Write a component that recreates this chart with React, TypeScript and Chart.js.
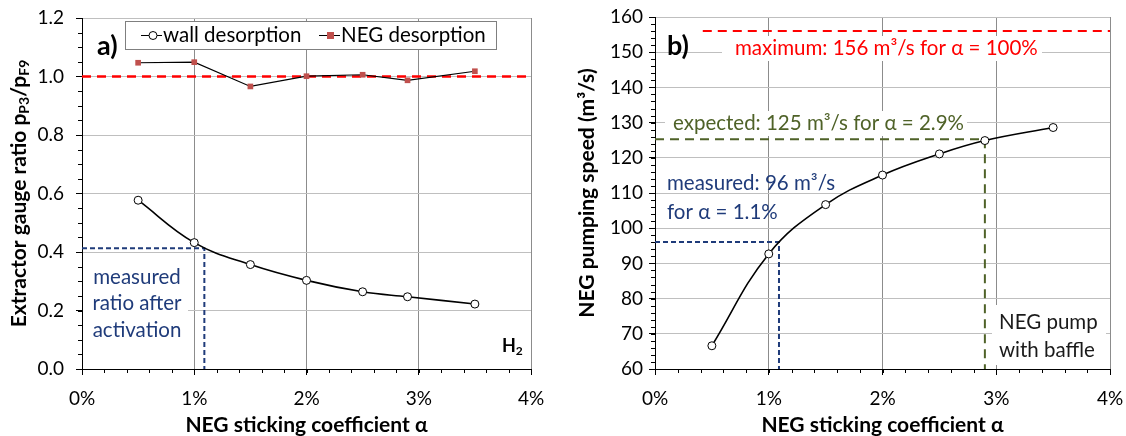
import React, { useEffect, useRef } from "react";
import { Chart, registerables } from "chart.js";

Chart.register(...registerables);

// ---------- data ----------
const alphaPct = [0.5, 1, 1.5, 2, 2.5, 2.9, 3.5];
const wallDesorption = [0.577, 0.432, 0.357, 0.303, 0.264, 0.247, 0.222];
const negDesorption = [1.047, 1.049, 0.966, 1.001, 1.006, 0.987, 1.018];
const pumpingSpeed = [66.6, 92.7, 106.7, 115.1, 121.1, 124.9, 128.6];

const xRange = [0, 4];
const leftYRange = [0, 1.2];
const rightYRange = [60, 160];
const xMajorStep = 1;
const xMinorStep = 0.2;
const leftYMajorStep = 0.2;
const leftYMinorStep = 0.05;
const rightYMajorStep = 10;
const rightYMinorStep = 2;

const unityRatio = 1.0;
const measuredAlpha = 1.09;
const measuredRatio = 0.4125;
const measuredSpeed = 96.1;
const expectedAlpha = 2.9;
const expectedSpeed = 125.3;
const maxSpeed = 156;
const maxLineStartAlpha = 0.42;

// ---------- styling ----------
const FONT = "Lato, 'Noto Sans', sans-serif";
const NAVY = "#1f3b7a";
const RED = "#ff0000";
const OLIVE = "#4f6228";
const NEG_RED = "#c0504d";
const TICK_SIZE = 19;
const ANN_SIZE = 20.5;
const TITLE_SIZE = 21;

type Seg = { t: string; sub?: boolean; sup?: boolean };

function drawRich(
  ctx: CanvasRenderingContext2D,
  segs: Seg[],
  x: number,
  y: number,
  size: number,
  weight: string,
  color: string,
  align: "left" | "center"
) {
  ctx.save();
  ctx.textBaseline = "middle";
  ctx.textAlign = "left";
  ctx.fillStyle = color;
  const fontFor = (s: Seg) => `${weight} ${s.sub || s.sup ? Math.round(size * 0.66) : size}px ${FONT}`;
  let w = 0;
  for (const s of segs) {
    ctx.font = fontFor(s);
    w += ctx.measureText(s.t).width;
  }
  let cx = align === "center" ? x - w / 2 : x;
  for (const s of segs) {
    ctx.font = fontFor(s);
    const dy = s.sub ? size * 0.28 : s.sup ? -size * 0.3 : 0;
    ctx.fillText(s.t, cx, y + dy);
    cx += ctx.measureText(s.t).width;
  }
  ctx.restore();
}

function whiteBox(ctx: CanvasRenderingContext2D, x: number, y: number, w: number, h: number) {
  ctx.save();
  ctx.fillStyle = "#fff";
  ctx.fillRect(x, y, w, h);
  ctx.restore();
}

function drawMinorTicks(chart: any, xStep: number, yStep: number) {
  const { ctx, chartArea, scales } = chart;
  const x = scales.x;
  const y = scales.y;
  ctx.save();
  ctx.strokeStyle = "#000";
  ctx.lineWidth = 1;
  ctx.beginPath();
  const nx = Math.round((x.max - x.min) / xStep);
  for (let i = 0; i <= nx; i++) {
    const px = Math.round(x.getPixelForValue(x.min + i * xStep)) + 0.5;
    ctx.moveTo(px, chartArea.bottom);
    ctx.lineTo(px, chartArea.bottom + 4);
  }
  const ny = Math.round((y.max - y.min) / yStep);
  for (let i = 0; i <= ny; i++) {
    const py = Math.round(y.getPixelForValue(y.min + i * yStep)) + 0.5;
    ctx.moveTo(chartArea.left - 4, py);
    ctx.lineTo(chartArea.left, py);
  }
  ctx.stroke();
  ctx.restore();
}

function text(ctx: CanvasRenderingContext2D, s: string, x: number, y: number, size: number, weight: string, color: string, align: CanvasTextAlign = "left") {
  ctx.save();
  ctx.font = `${weight} ${size}px ${FONT}`;
  ctx.fillStyle = color;
  ctx.textAlign = align;
  ctx.textBaseline = "middle";
  ctx.fillText(s, x, y);
  ctx.restore();
}

function baseScales(
  yMin: number,
  yMax: number,
  yStep: number,
  yFmt: (v: number) => string,
  yWidth: number,
  xHeight: number,
  yPad: number
) {
  return {
    x: {
      type: "linear",
      min: xRange[0],
      max: xRange[1],
      offset: false,
      ticks: {
        stepSize: xMajorStep,
        callback: (v: any) => `${v}%`,
        font: { family: FONT, size: TICK_SIZE },
        color: "#000",
        padding: 12,
        maxRotation: 0,
      },
      grid: { color: "#8c8c8c", lineWidth: 1, tickColor: "#000", tickLength: 6, drawTicks: true },
      border: { color: "#000", width: 1 },
      afterFit: (s: any) => {
        s.height = xHeight;
        s.paddingLeft = 0;
        s.paddingRight = 0;
      },
    },
    y: {
      type: "linear",
      min: yMin,
      max: yMax,
      ticks: {
        stepSize: yStep,
        callback: (v: any) => yFmt(Number(v)),
        font: { family: FONT, size: TICK_SIZE },
        color: "#000",
        padding: yPad,
      },
      grid: { color: "#bfbfbf", lineWidth: 1, tickColor: "#000", tickLength: 6, drawTicks: true },
      border: { color: "#000", width: 1 },
      afterFit: (s: any) => {
        s.width = yWidth;
        s.paddingTop = 0;
        s.paddingBottom = 0;
      },
    },
  };
}

const leftDecor = {
  id: "leftDecor",
  beforeDatasetsDraw(chart: any) {
    const ctx = chart.ctx as CanvasRenderingContext2D;
    whiteBox(ctx, 83, 262, 105, 84);
    text(ctx, "measured", 137, 277, ANN_SIZE, "normal", NAVY, "center");
    text(ctx, "ratio after", 137, 303, ANN_SIZE, "normal", NAVY, "center");
    text(ctx, "activation", 137, 330, ANN_SIZE, "normal", NAVY, "center");
  },
  afterDatasetsDraw(chart: any) {
    const ctx = chart.ctx as CanvasRenderingContext2D;
    // legend
    ctx.save();
    ctx.fillStyle = "#fff";
    ctx.fillRect(125, 21, 371, 28);
    ctx.strokeStyle = "#7f7f7f";
    ctx.lineWidth = 1;
    ctx.strokeRect(125.5, 21.5, 371, 28);
    ctx.strokeStyle = "#000";
    ctx.lineWidth = 1.2;
    ctx.beginPath();
    ctx.moveTo(141, 35.5);
    ctx.lineTo(162, 35.5);
    ctx.moveTo(319, 35.5);
    ctx.lineTo(340, 35.5);
    ctx.stroke();
    ctx.beginPath();
    ctx.arc(153, 35.5, 4, 0, Math.PI * 2);
    ctx.fillStyle = "#fff";
    ctx.fill();
    ctx.lineWidth = 1;
    ctx.stroke();
    ctx.fillStyle = NEG_RED;
    ctx.fillRect(327, 32, 7, 7);
    ctx.restore();
    text(ctx, "wall desorption", 163, 35, ANN_SIZE, "normal", "#000");
    text(ctx, "NEG desorption", 341, 35, ANN_SIZE, "normal", "#000");
    text(ctx, "a)", 97, 46, 27, "bold", "#000");
    drawRich(ctx, [{ t: "H" }, { t: "2", sub: true }], 502, 346, 18, "bold", "#000", "left");
  },
  afterDraw(chart: any) {
    const ctx = chart.ctx as CanvasRenderingContext2D;
    drawMinorTicks(chart, xMinorStep, leftYMinorStep);
    const { left, right, top, bottom } = chart.chartArea;
    text(ctx, "NEG sticking coefficient \u03b1", (left + right) / 2, 425, TITLE_SIZE, "bold", "#000", "center");
    ctx.save();
    ctx.translate(19, (top + bottom) / 2);
    ctx.rotate(-Math.PI / 2);
    drawRich(
      ctx,
      [{ t: "Extractor gauge ratio p" }, { t: "P3", sub: true }, { t: "/p" }, { t: "F9", sub: true }],
      0,
      0,
      TITLE_SIZE,
      "bold",
      "#000",
      "center"
    );
    ctx.restore();
  },
};

const rightDecor = {
  id: "rightDecor",
  beforeDatasetsDraw(chart: any) {
    const ctx = chart.ctx as CanvasRenderingContext2D;
    const ox = 560;
    whiteBox(ctx, 722 - ox, 36, 320, 25);
    text(ctx, "maximum: 156 m\u00b3/s for \u03b1 = 100%", 735 - ox, 48, ANN_SIZE, "normal", RED);
    whiteBox(ctx, 665 - ox, 111, 302, 25);
    text(ctx, "expected: 125 m\u00b3/s for \u03b1 = 2.9%", 673 - ox, 123, ANN_SIZE, "normal", OLIVE);
    text(ctx, "measured: 96 m\u00b3/s", 667 - ox, 183, ANN_SIZE, "normal", NAVY);
    text(ctx, "for \u03b1 = 1.1%", 667 - ox, 212, ANN_SIZE, "normal", NAVY);
    whiteBox(ctx, 992 - ox, 305, 114, 60);
    text(ctx, "NEG pump", 999 - ox, 322, ANN_SIZE, "normal", "#1a1a1a");
    text(ctx, "with baffle", 999 - ox, 350, ANN_SIZE, "normal", "#1a1a1a");
  },
  afterDatasetsDraw(chart: any) {
    const ctx = chart.ctx as CanvasRenderingContext2D;
    text(ctx, "b)", 667 - 560, 46, 27, "bold", "#000");
  },
  afterDraw(chart: any) {
    const ctx = chart.ctx as CanvasRenderingContext2D;
    drawMinorTicks(chart, xMinorStep, rightYMinorStep);
    const { left, right, top, bottom } = chart.chartArea;
    text(ctx, "NEG sticking coefficient \u03b1", (left + right) / 2, 425, TITLE_SIZE, "bold", "#000", "center");
    ctx.save();
    ctx.translate(27, (top + bottom) / 2);
    ctx.rotate(-Math.PI / 2);
    text(ctx, "NEG pumping speed (m\u00b3/s)", 0, 0, TITLE_SIZE, "bold", "#000", "center");
    ctx.restore();
  },
};

function xy(xs: number[], ys: number[]) {
  return xs.map((x, i) => ({ x, y: ys[i] }));
}

function LeftChart() {
  const ref = useRef<HTMLCanvasElement>(null);
  useEffect(() => {
    const chart = new Chart(ref.current as HTMLCanvasElement, {
      type: "line",
      data: {
        datasets: [
          {
            label: "wall desorption",
            data: xy(alphaPct, wallDesorption),
            borderColor: "#000",
            borderWidth: 1.6,
            tension: 0.4,
            pointRadius: 4,
            pointBackgroundColor: "#fff",
            pointBorderColor: "#000",
            pointBorderWidth: 1,
          },
          {
            label: "NEG desorption",
            data: xy(alphaPct, negDesorption),
            borderColor: "#000",
            borderWidth: 1.2,
            tension: 0,
            pointStyle: "rect",
            pointRadius: 4,
            pointBackgroundColor: NEG_RED,
            pointBorderColor: NEG_RED,
            pointBorderWidth: 0,
          },
          {
            label: "unity",
            data: [
              { x: xRange[0], y: unityRatio },
              { x: xRange[1], y: unityRatio },
            ],
            borderColor: RED,
            borderWidth: 2.5,
            borderDash: [9, 6],
            pointRadius: 0,
            tension: 0,
          },
          {
            label: "measured",
            data: [
              { x: xRange[0], y: measuredRatio },
              { x: measuredAlpha, y: measuredRatio },
              { x: measuredAlpha, y: leftYRange[0] },
            ],
            borderColor: NAVY,
            borderWidth: 2,
            borderDash: [5, 3],
            pointRadius: 0,
            tension: 0,
          },
        ],
      },
      options: {
        animation: false,
        responsive: true,
        maintainAspectRatio: false,
        layout: { padding: { left: 0, top: 18, right: 29, bottom: 0 } },
        plugins: { legend: { display: false }, tooltip: { enabled: false } },
        scales: baseScales(leftYRange[0], leftYRange[1], leftYMajorStep, (v) => v.toFixed(1), 82, 67, 12) as any,
      },
      plugins: [leftDecor],
    } as any);
    return () => chart.destroy();
  }, []);
  return (
    <div style={{ position: "absolute", left: 0, top: 0, width: 560, height: 436 }}>
      <canvas ref={ref} />
    </div>
  );
}

function RightChart() {
  const ref = useRef<HTMLCanvasElement>(null);
  useEffect(() => {
    const chart = new Chart(ref.current as HTMLCanvasElement, {
      type: "line",
      data: {
        datasets: [
          {
            label: "NEG pumping speed",
            data: xy(alphaPct, pumpingSpeed),
            borderColor: "#000",
            borderWidth: 1.6,
            tension: 0.4,
            pointRadius: 4,
            pointBackgroundColor: "#fff",
            pointBorderColor: "#000",
            pointBorderWidth: 1,
          },
          {
            label: "maximum",
            data: [
              { x: maxLineStartAlpha, y: maxSpeed },
              { x: xRange[1], y: maxSpeed },
            ],
            borderColor: RED,
            borderWidth: 2,
            borderDash: [9, 6],
            pointRadius: 0,
            tension: 0,
          },
          {
            label: "expected",
            data: [
              { x: xRange[0], y: expectedSpeed },
              { x: expectedAlpha, y: expectedSpeed },
              { x: expectedAlpha, y: rightYRange[0] },
            ],
            borderColor: OLIVE,
            borderWidth: 2,
            borderDash: [9, 6],
            pointRadius: 0,
            tension: 0,
          },
          {
            label: "measured",
            data: [
              { x: xRange[0], y: measuredSpeed },
              { x: measuredAlpha, y: measuredSpeed },
              { x: measuredAlpha, y: rightYRange[0] },
            ],
            borderColor: NAVY,
            borderWidth: 2,
            borderDash: [5, 3],
            pointRadius: 0,
            tension: 0,
          },
        ],
      },
      options: {
        animation: false,
        responsive: true,
        maintainAspectRatio: false,
        layout: { padding: { left: 0, top: 17, right: 16, bottom: 0 } },
        plugins: { legend: { display: false }, tooltip: { enabled: false } },
        scales: baseScales(rightYRange[0], rightYRange[1], rightYMajorStep, (v) => String(v), 95, 67, 6) as any,
      },
      plugins: [rightDecor],
    } as any);
    return () => chart.destroy();
  }, []);
  return (
    <div style={{ position: "absolute", left: 560, top: 0, width: 566, height: 436 }}>
      <canvas ref={ref} />
    </div>
  );
}

export default function App() {
  return (
    <div style={{ position: "fixed", left: 0, top: 0, width: 1126, height: 436, background: "#fff", overflow: "hidden" }}>
      <LeftChart />
      <RightChart />
    </div>
  );
}
